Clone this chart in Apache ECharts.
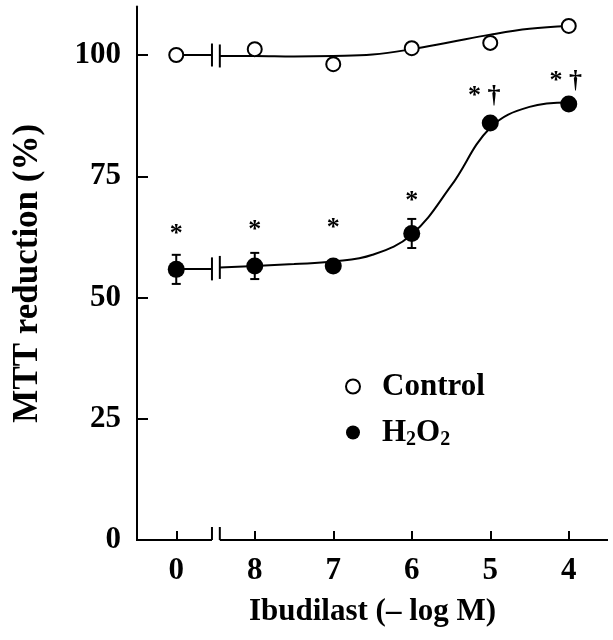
<!DOCTYPE html>
<html>
<head>
<meta charset="utf-8">
<script src="https://cdn.jsdelivr.net/npm/echarts@6/dist/echarts.min.js"></script>
<style>html,body{margin:0;padding:0;background:#fff}#chart{width:613px;height:640px}</style>
</head>
<body>
<div id="chart"></div>
<script>
// ---- data ----
const categories = ['0', '8', '7', '6', '5', '4'];
const yTicks = [0, 25, 50, 75, 100];
const controlValues = [100.0, 101.2, 98.1, 101.4, 102.5, 106.0];
const h2o2Values = [55.8, 56.5, 56.5, 63.2, 86.0, 89.9];
const h2o2Errors = [3.0, 2.7, 0.8, 3.0, 0.8, 0.8];
const h2o2Marks = ['*', '*', '*', '*', '* †', '* †'];
// fitted curves (x in category-index units), split at the axis break
const controlFitBefore = [[0, 100.0], [0.455, 100.0]];
const controlFitAfter = [[0.555, 99.8], [1, 99.8], [1.5, 99.7], [2, 99.8], [2.5, 100.1], [3, 101.2], [3.5, 102.7], [4, 104.2], [4.5, 105.4], [5, 106.0]];
const h2o2FitBefore = [[0, 55.9], [0.455, 55.9]];
const h2o2FitAfter = [[0.555, 56.2], [1, 56.5], [1.5, 56.9], [2, 57.4], [2.5, 58.8], [3, 63.0], [3.5, 73.0], [4, 85.0], [4.5, 89.3], [5, 90.2]];
const axisBreak = [0.455, 0.555];

// ---- styling ----
const FONT = "'Liberation Serif', 'Times New Roman', serif";
const markOffsets = [[0, -14], [0, -14], [0, -16], [0, -11], [-6, -5], [-3, -1]];

const chart = echarts.init(document.getElementById('chart'), null, {renderer: 'canvas'});

const curveBreakData = [
  controlFitBefore[controlFitBefore.length - 1], controlFitAfter[0],
  h2o2FitBefore[h2o2FitBefore.length - 1], h2o2FitAfter[0]
];

const lineStyle = {color: '#000', width: 2};

const option = {
  backgroundColor: '#fff',
  animation: false,
  grid: {left: 137, right: 5, top: 6.5, bottom: 100, containLabel: false},
  xAxis: [{
    type: 'category',
    data: categories,
    boundaryGap: true,
    axisLine: {show: false},
    axisTick: {show: true, inside: true, alignWithLabel: true, length: 9, lineStyle: {color: '#000', width: 2}},
    axisLabel: {color: '#000', fontFamily: FONT, fontWeight: 'bold', fontSize: 31, margin: 15},
    splitLine: {show: false},
    name: 'Ibudilast (– log M)',
    nameLocation: 'middle',
    nameGap: 56,
    nameTextStyle: {color: '#000', fontFamily: FONT, fontWeight: 'bold', fontSize: 31}
  }, {
    type: 'value',
    min: -0.5,
    max: 5.5,
    show: false
  }],
  yAxis: {
    type: 'value',
    min: 0,
    max: 110,
    axisLine: {show: true, onZero: false, lineStyle: {color: '#000', width: 2}},
    axisTick: {show: true, inside: true, length: 11, customValues: yTicks, lineStyle: {color: '#000', width: 2}},
    axisLabel: {color: '#000', fontFamily: FONT, fontWeight: 'bold', fontSize: 31, margin: 16, customValues: yTicks},
    splitLine: {show: false},
    name: 'MTT reduction (%)',
    nameLocation: 'middle',
    nameRotate: 90,
    nameGap: 92,
    nameTextStyle: {color: '#000', fontFamily: FONT, fontWeight: 'bold', fontSize: 35}
  },
  legend: {
    orient: 'vertical',
    left: 340,
    top: 366,
    itemGap: 15,
    icon: 'circle',
    itemWidth: 14,
    itemHeight: 14,
    selectedMode: false,
    textStyle: {
      color: '#000', fontFamily: FONT, fontWeight: 'bold', fontSize: 31, padding: [0, 0, 0, 17],
      rich: {
        b: {color: '#000', fontFamily: FONT, fontWeight: 'bold', fontSize: 31},
        s: {color: '#000', fontFamily: FONT, fontWeight: 'bold', fontSize: 20, padding: [14, 0, 0, 0]}
      }
    },
    formatter: function (name) {
      return name === 'H2O2' ? '{b|H}{s|2}{b|O}{s|2}' : name;
    },
    data: [
      {name: 'Control', itemStyle: {color: '#fff', borderColor: '#000', borderWidth: 2}},
      {name: 'H2O2', itemStyle: {color: '#000'}}
    ]
  },
  series: [
    // x axis line with break
    {
      type: 'custom', name: 'axisBreak', xAxisIndex: 1, silent: true, z: 5,
      data: [[0]],
      renderItem: function (params, api) {
        const a = api.coord([-0.5, 0]);
        const b = api.coord([axisBreak[0], 0]);
        const c = api.coord([axisBreak[1], 0]);
        const d = api.coord([5.5, 0]);
        const st = {stroke: '#000', lineWidth: 2};
        return {type: 'group', children: [
          {type: 'line', shape: {x1: a[0] - 1, y1: a[1], x2: b[0], y2: b[1]}, style: st},
          {type: 'line', shape: {x1: c[0], y1: c[1], x2: d[0], y2: d[1]}, style: st},
          {type: 'line', shape: {x1: b[0], y1: b[1], x2: b[0], y2: b[1] - 13}, style: st},
          {type: 'line', shape: {x1: c[0], y1: c[1], x2: c[0], y2: c[1] - 13}, style: st}
        ]};
      }
    },
    // fitted curves
    {type: 'line', name: 'cfit1', xAxisIndex: 1, data: controlFitBefore, symbol: 'none', lineStyle: lineStyle, z: 2},
    {type: 'line', name: 'cfit2', xAxisIndex: 1, data: controlFitAfter, symbol: 'none', smooth: 0.4, lineStyle: lineStyle, z: 2},
    {type: 'line', name: 'hfit1', xAxisIndex: 1, data: h2o2FitBefore, symbol: 'none', lineStyle: lineStyle, z: 2},
    {type: 'line', name: 'hfit2', xAxisIndex: 1, data: h2o2FitAfter, symbol: 'none', smooth: 0.4, lineStyle: lineStyle, z: 2},
    // curve break bars
    {
      type: 'custom', name: 'curveBreaks', xAxisIndex: 1, silent: true, z: 3,
      data: curveBreakData,
      renderItem: function (params, api) {
        const p = api.coord([api.value(0), api.value(1)]);
        return {type: 'line', shape: {x1: p[0], y1: p[1] - 11.5, x2: p[0], y2: p[1] + 11.5}, style: {stroke: '#000', lineWidth: 2}};
      }
    },
    // error bars
    {
      type: 'custom', name: 'errors', xAxisIndex: 0, silent: true, z: 3,
      data: h2o2Values.map((v, i) => [i, v - h2o2Errors[i], v + h2o2Errors[i]]),
      renderItem: function (params, api) {
        const lo = api.coord([api.value(0), api.value(1)]);
        const hi = api.coord([api.value(0), api.value(2)]);
        const st = {stroke: '#000', lineWidth: 2};
        return {type: 'group', children: [
          {type: 'line', shape: {x1: lo[0], y1: lo[1], x2: hi[0], y2: hi[1]}, style: st},
          {type: 'line', shape: {x1: lo[0] - 4.5, y1: lo[1], x2: lo[0] + 4.5, y2: lo[1]}, style: st},
          {type: 'line', shape: {x1: hi[0] - 4.5, y1: hi[1], x2: hi[0] + 4.5, y2: hi[1]}, style: st}
        ]};
      }
    },
    // data points
    {
      type: 'scatter', name: 'Control', xAxisIndex: 0, data: controlValues,
      symbol: 'circle', symbolSize: 14,
      itemStyle: {color: '#fff', borderColor: '#000', borderWidth: 2, opacity: 1}, z: 6
    },
    {
      type: 'scatter', name: 'H2O2', xAxisIndex: 0,
      data: h2o2Values.map((v, i) => ({
        value: v,
        label: {show: true, position: 'top', distance: 0, offset: markOffsets[i], formatter: h2o2Marks[i]}
      })),
      symbol: 'circle', symbolSize: 17,
      itemStyle: {color: '#000', opacity: 1}, z: 6,
      label: {color: '#000', fontFamily: FONT, fontWeight: 'bold', fontSize: 26}
    }
  ]
};
chart.setOption(option);
</script>
</body>
</html>
